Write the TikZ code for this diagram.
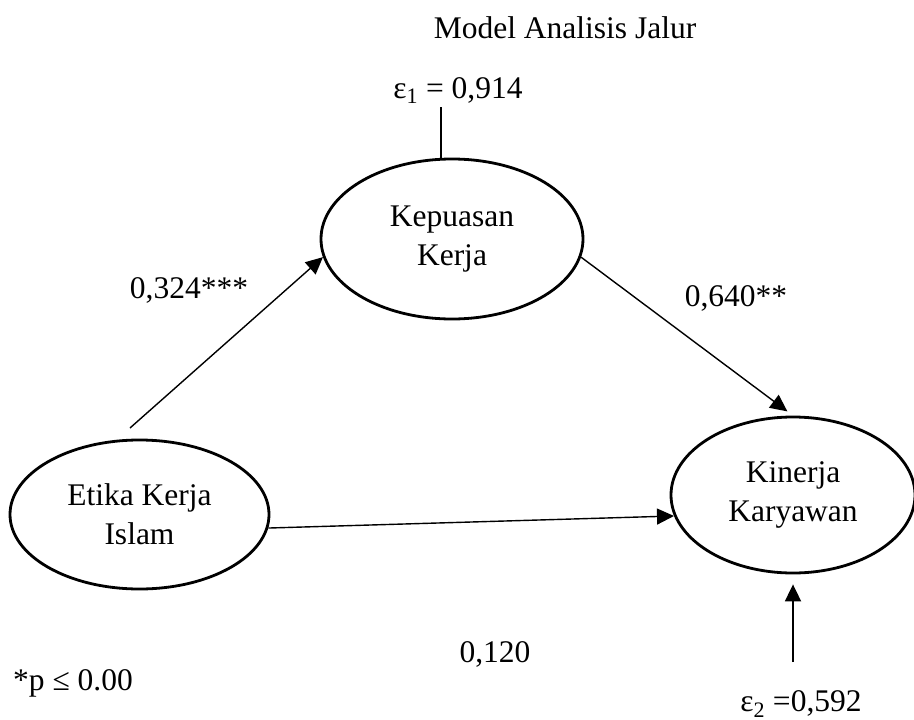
\documentclass[tikz,border=0pt]{standalone}
\usepackage{fontspec}
\setmainfont{Liberation Serif}
\usetikzlibrary{shapes.geometric,arrows.meta}
\begin{document}
\begin{tikzpicture}[x=1pt,y=-1pt,
  every node/.style={font=\fontsize{31.5}{39}\selectfont},
  latent/.style={ellipse, draw, line width=2.8pt, inner sep=0pt, align=center},
  lbl/.style={anchor=base, inner sep=0pt},
  arr/.style={line width=1.4pt, -{Triangle[length=17pt,width=16pt]}},
  errline/.style={line width=1.9pt}
]
\useasboundingbox (0,0) rectangle (914,720);

\node[lbl] (title) at (565,38) {Model Analisis Jalur};

\node[latent, minimum width=262pt, minimum height=160pt] (kep) at (452,239) {Kepuasan\\Kerja};
\node[latent, minimum width=259pt, minimum height=149pt] (etika) at (139.5,514.5) {Etika Kerja\\Islam};
\node[latent, minimum width=244pt, minimum height=156pt] (kin) at (793,495) {Kinerja\\Karyawan};

\node[lbl] (eps1) at (458,98) {ε\textsubscript{1} = 0,914};
\coordinate (e1t) at (441,107);
\draw[errline] (e1t) -- (e1t |- kep.north);

\node[lbl] (eps2) at (801,711) {ε\textsubscript{2} =0,592};
\coordinate (e2s) at (793,662);
\draw[arr, line width=1.9pt, shorten >=10pt] (e2s) -- (kin.south);

\coordinate (a1s) at (130,428);
\draw[arr] (a1s) -- (kep.188);
\draw[arr, shorten >=7pt] (kep.352) -- (kin.north);
\draw[arr] (etika.354.5) -- (kin.190);

\node[lbl] (p324) at (189,298) {0,324***};
\node[lbl] (p640) at (736,306) {0,640**};
\node[lbl] (p120) at (495,662) {0,120};
\node[lbl, anchor=base west] (note) at (13,690) {*p ≤ 0.00};
\end{tikzpicture}
\end{document}
